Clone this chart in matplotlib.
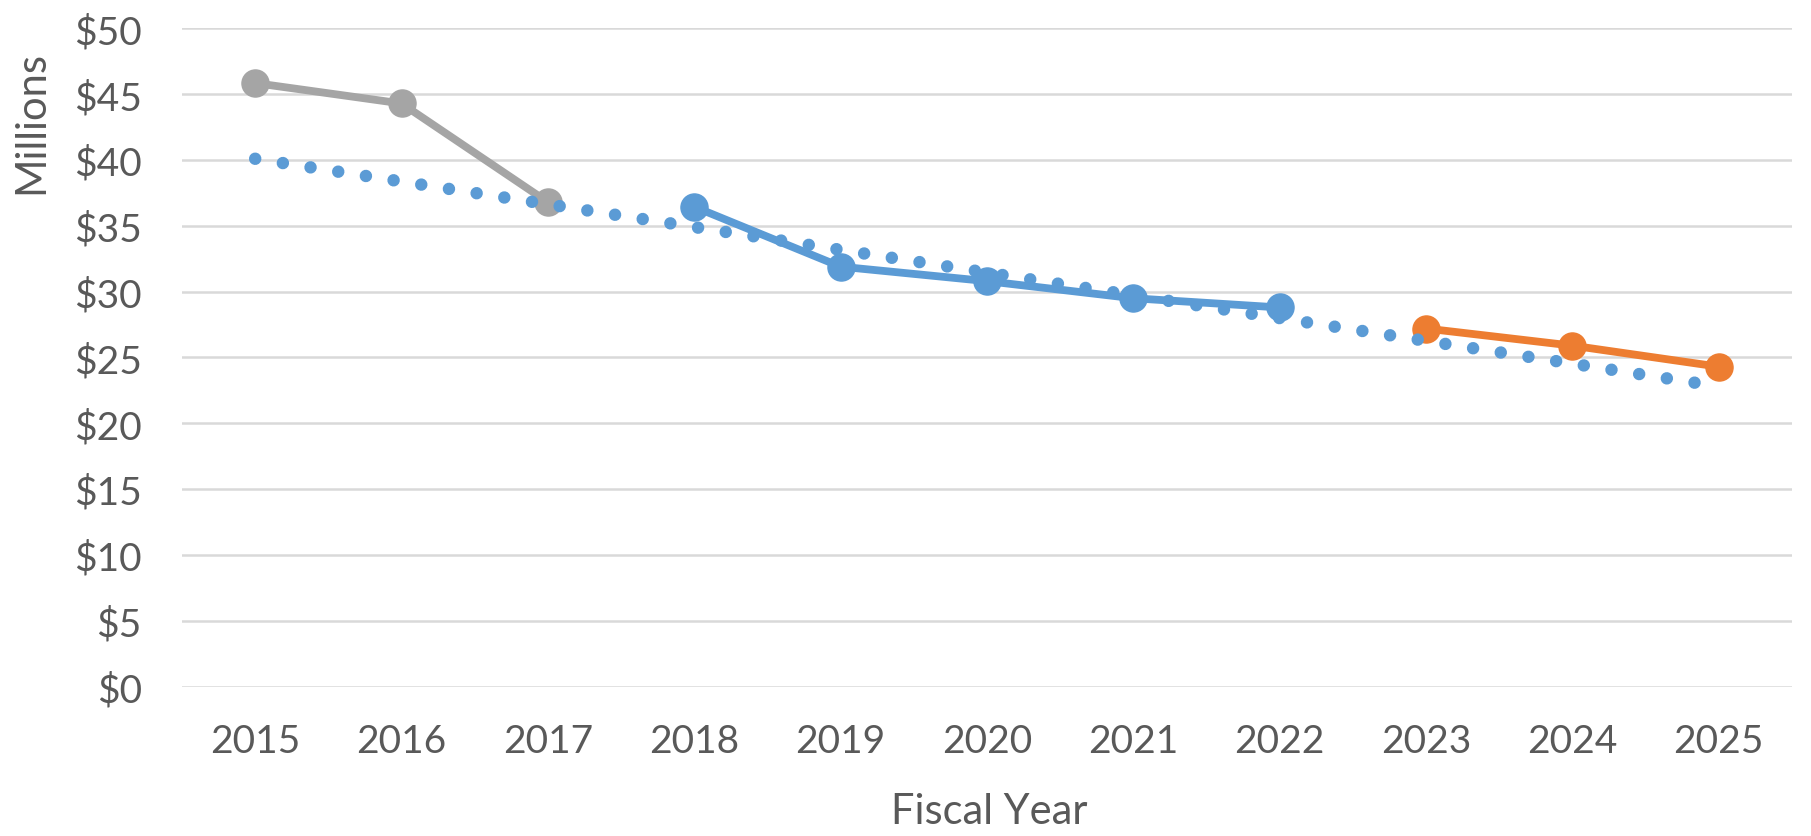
import matplotlib
matplotlib.use("Agg")
import matplotlib.pyplot as plt
from matplotlib.ticker import FuncFormatter, MultipleLocator

# values (millions of dollars)
years = ["2015", "2016", "2017", "2018", "2019", "2020",
         "2021", "2022", "2023", "2024", "2025"]
actual_early = [45.85, 44.3, 36.8]              # 2015-2017, grey
actual_recent = [36.45, 31.9, 30.8, 29.5, 28.8]  # 2018-2022, blue
projected = [27.2, 25.9, 24.3]                   # 2023-2025, orange
trend_ends = [40.1, 22.8]                        # dotted trend, 2015 and 2025

GREY = "#A5A5A5"
BLUE = "#5B9BD5"
ORANGE = "#ED7D31"
TEXT = "#595959"
GRID = "#D9D9D9"

plt.rcParams["font.family"] = ["Lato", "DejaVu Sans"]

fig = plt.figure(figsize=(18.11, 8.37), dpi=100)
ax = fig.add_axes([0.1005, 0.1786, 0.889, 0.7862])

x = list(range(len(years)))
line_kw = dict(lw=5.6, marker="o", markersize=19.5, solid_capstyle="round")
ax.plot(x[0:3], actual_early, color=GREY, zorder=3, **line_kw)
ax.plot(x[3:8], actual_recent, color=BLUE, zorder=3, **line_kw)
ax.plot(x[8:11], projected, color=ORANGE, zorder=3, **line_kw)

# dotted trend: round caps on near-zero dashes give dots ~28 px apart
ax.plot([x[0], x[-1]], trend_ends, color=BLUE, lw=9,
        linestyle=(0, (0.001, 2.24)), dash_capstyle="round", zorder=4)

ax.set_xlim(-0.5, len(years) - 0.5)
ax.set_ylim(0, 50)
ax.yaxis.set_major_locator(MultipleLocator(5))
ax.yaxis.set_major_formatter(FuncFormatter(lambda v, _: f"${v:.0f}"))
ax.set_xticks(x)
ax.set_xticklabels(years)

ax.grid(axis="y", color=GRID, lw=1.8, zorder=0)
ax.set_axisbelow(True)
for s in ax.spines.values():
    s.set_visible(False)
ax.tick_params(axis="both", length=0, labelsize=28, colors=TEXT)
ax.tick_params(axis="y", pad=29)
ax.tick_params(axis="x", pad=26)

fig.text(0.0171, 0.854, "Millions", rotation=90, ha="center", va="center",
         fontsize=30, color=TEXT)
fig.text(0.546, 0.0155, "Fiscal Year", ha="center", va="baseline",
         fontsize=30, color=TEXT)

fig.savefig("out.png", dpi=100)
